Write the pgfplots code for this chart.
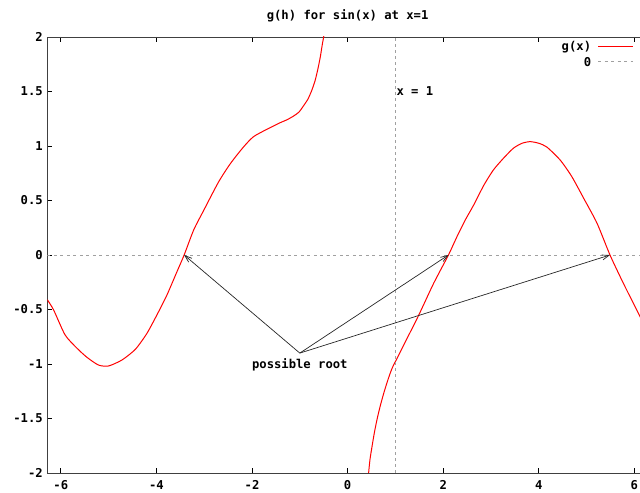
\documentclass[border=0pt]{standalone}
\usepackage{fontspec}
\setmainfont{DejaVu Sans Mono}
\usepackage{pgfplots}
\pgfplotsset{compat=1.18}
\usetikzlibrary{arrows.meta,calc}
\definecolor{gpred}{HTML}{FF0000}
\definecolor{gpgray}{HTML}{A0A0A0}
\newcommand{\gpfont}{\fontsize{12.2bp}{14bp}\selectfont\bfseries}
\tikzset{
  gcurve/.style={gpred, line width=1bp},
  zline/.style={gpgray, line width=0.8bp, dash pattern=on 3bp off 3.5bp},
  arr/.style={black!85, line width=0.7bp, -{Straight Barb[length=7bp,width=5bp]}},
}

\begin{document}
\begin{tikzpicture}
\begin{axis}[
  scale only axis,
  width=600.6bp, height=436bp,
  xmin=-6.2832, xmax=6.2832, ymin=-2, ymax=2,
  axis x line*=box, axis y line*=left,
  axis line style={black!75, line width=0.9bp},
  xtick={-6,-4,...,6},
  ytick={-2,-1.5,-1,-0.5,0,0.5,1,1.5,2},
  tick align=inside, major tick length=5bp,
  tick style={black, line width=0.7bp},
  /pgf/number format/assume math mode=true,
  ticklabel style={font=\gpfont},
  xticklabel style={yshift=-4bp},
  yticklabel style={xshift=-1bp},
  title={g(h) for sin(x) at x=1},
  title style={font=\gpfont, at={(0.5,1)}, anchor=south, yshift=5bp},
  clip=true,
]
% g(x), left branch
\addplot[gcurve, smooth, tension=0.4] coordinates {
  (-6.2832,-0.41) (-6.15,-0.505) (-5.91,-0.734) (-5.66,-0.856) (-5.45,-0.94)
  (-5.21,-1.01) (-5.0,-1.018) (-4.72,-0.963) (-4.44,-0.865) (-4.20,-0.72)
  (-3.99,-0.55) (-3.78,-0.367) (-3.57,-0.153) (-3.42,0.0) (-3.22,0.23)
  (-3.01,0.41) (-2.70,0.67) (-2.45,0.84) (-2.18,0.99) (-1.97,1.085)
  (-1.69,1.153) (-1.41,1.214) (-1.27,1.24) (-1.13,1.275) (-1.02,1.31)
  (-0.92,1.37) (-0.83,1.43) (-0.75,1.51) (-0.68,1.60) (-0.62,1.71)
  (-0.57,1.82) (-0.53,1.93) (-0.49,2.03) (-0.46,2.15)
};
% 0
\addplot[zline] coordinates {(-6.2832,0) (6.2832,0)};
% g(x), right branch
\addplot[gcurve, smooth, tension=0.4] coordinates {
  (0.42,-2.15) (0.44,-2.0) (0.47,-1.87) (0.51,-1.76) (0.56,-1.63)
  (0.615,-1.51) (0.68,-1.39) (0.755,-1.27) (0.84,-1.15) (0.93,-1.04)
  (1.05,-0.935) (1.17,-0.83) (1.49,-0.55) (1.80,-0.26) (2.11,0.0)
  (2.29,0.17) (2.46,0.32) (2.64,0.46) (2.85,0.64) (3.05,0.78)
  (3.26,0.887) (3.47,0.98) (3.65,1.025) (3.82,1.04) (4.0,1.025)
  (4.17,0.99) (4.45,0.87) (4.69,0.72) (4.94,0.52) (5.22,0.29)
  (5.49,0.0) (5.77,-0.26) (6.12,-0.566) (6.2832,-0.71)
};
% x = 1
\addplot[gpgray, line width=0.8bp, dash pattern=on 2.5bp off 3.5bp] coordinates {(1,-2) (1,2)};
\draw[arr] (-1,-0.9) -- (-3.42,0);
\draw[arr] (-1,-0.9) -- (2.11,0);
\draw[arr] (-1,-0.9) -- (5.49,0);
\node[font=\gpfont, anchor=center] at (-1,-1.01) {possible root};
\node[font=\gpfont, anchor=west, inner sep=0pt] at (1.02,1.5) {x = 1};
\coordinate (sw) at (rel axis cs:0,0);
\end{axis}
% key, top right
\node[font=\gpfont, anchor=east, inner sep=0pt] at ($(sw)+(544bp,426.3bp)$) {g(x)};
\draw[gcurve] ($(sw)+(550.7bp,426.3bp)$) -- ++(35bp,0);
\node[font=\gpfont, anchor=east, inner sep=0pt] at ($(sw)+(544bp,411.3bp)$) {0};
\draw[zline] ($(sw)+(550.7bp,411.3bp)$) -- ++(35bp,0);
\pgfresetboundingbox
\path[use as bounding box] ($(sw)+(-47.3bp,-20bp)$) rectangle ($(sw)+(592.7bp,473bp)$);
\end{tikzpicture}
\end{document}
